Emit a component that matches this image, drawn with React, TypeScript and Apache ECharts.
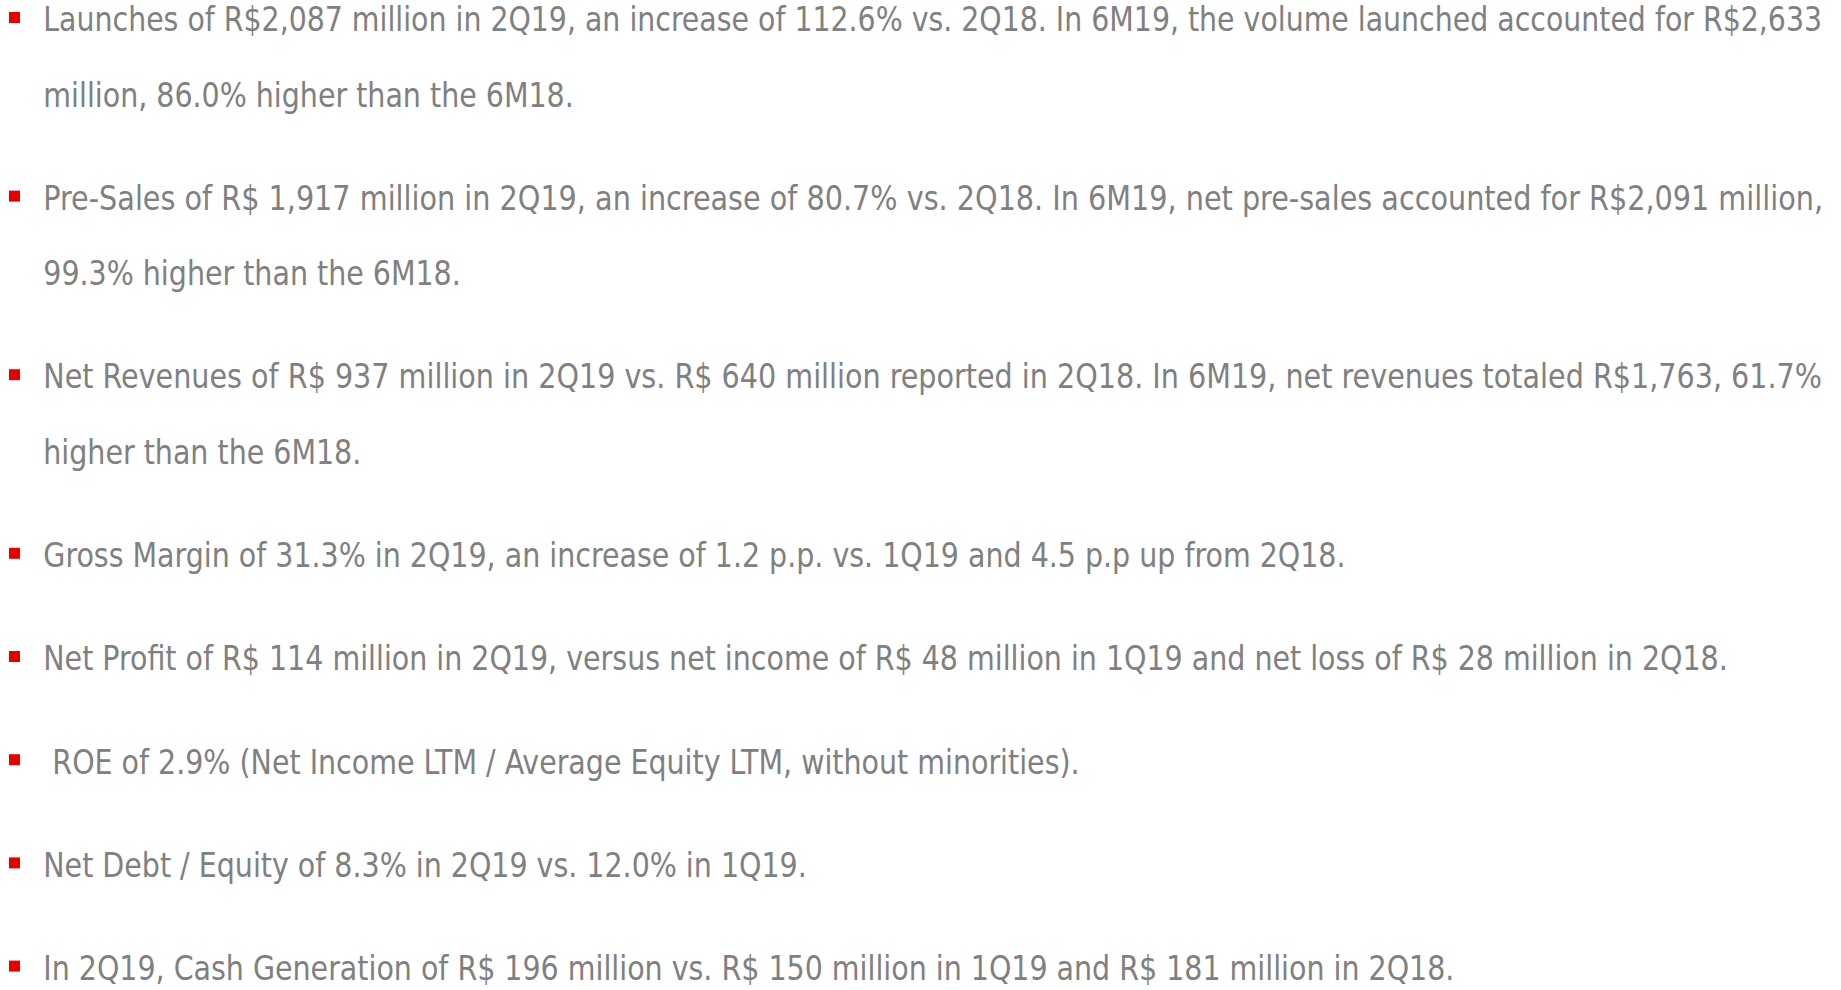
import React, { useEffect, useRef } from "react";
import * as echarts from "echarts";

// Bullet paragraphs, each split into its printed lines
const paragraphs: string[][] = [
  [
    "Launches of R$2,087 million in 2Q19, an increase of 112.6% vs. 2Q18. In 6M19, the volume launched accounted for R$2,633",
    "million, 86.0% higher than the 6M18.",
  ],
  [
    "Pre-Sales of R$ 1,917 million in 2Q19, an increase of 80.7% vs. 2Q18. In 6M19, net pre-sales accounted for R$2,091 million,",
    "99.3% higher than the 6M18.",
  ],
  [
    "Net Revenues of R$ 937 million in 2Q19 vs. R$ 640 million reported in 2Q18. In 6M19, net revenues totaled R$1,763, 61.7%",
    "higher than the 6M18.",
  ],
  ["Gross Margin of 31.3% in 2Q19, an increase of 1.2 p.p. vs. 1Q19 and 4.5 p.p up from 2Q18."],
  ["Net Profit of R$ 114 million in 2Q19, versus net income of R$ 48 million in 1Q19 and net loss of R$ 28 million in 2Q18."],
  [" ROE of 2.9% (Net Income LTM / Average Equity LTM, without minorities)."],
  ["Net Debt / Equity of 8.3% in 2Q19 vs. 12.0% in 1Q19."],
  ["In 2Q19, Cash Generation of R$ 196 million vs. R$ 150 million in 1Q19 and R$ 181 million in 2Q18."],
];

const FONT_FAMILY = "'DejaVu Sans Condensed', 'DejaVu Sans', Tahoma, sans-serif";
const FONT_SIZE = 33;
const TEXT_COLOR = "#808080";
const BULLET_COLOR = "#e60000";

export default function App() {
  const ref = useRef<HTMLDivElement>(null);

  useEffect(() => {
    if (!ref.current) return;
    const chart = echarts.init(ref.current, undefined, { renderer: "svg" });

    const canvas = document.createElement("canvas");
    const ctx = canvas.getContext("2d")!;
    ctx.font = `${FONT_SIZE}px ${FONT_FAMILY}`;

    const textLeft = 43.3;
    const textRight = 1822.7;
    const condense = 0.96;

    const elements: any[] = [];
    const firstBaseline = 31.5;
    const lineGap = 75.4;
    const paraGap = 103.2;
    let baseline = firstBaseline;
    paragraphs.forEach((lines, pi) => {
      if (pi > 0) baseline += paraGap;
      elements.push({
        type: "rect",
        shape: { x: 9, y: baseline - 19.5, width: 11, height: 11 },
        style: { fill: BULLET_COLOR },
      });
      lines.forEach((line, li) => {
        if (li > 0) baseline += lineGap;
        const justified = li < lines.length - 1;
        let sx = condense;
        if (justified) {
          const w = ctx.measureText(line).width;
          sx = (textRight - textLeft) / w;
        }
        elements.push({
          type: "text",
          x: textLeft,
          y: baseline - 11.4,
          scaleX: sx,
          style: {
            text: line,
            fill: TEXT_COLOR,
            font: `${FONT_SIZE}px ${FONT_FAMILY}`,
            fontSize: FONT_SIZE,
            fontFamily: FONT_FAMILY,
            lineHeight: 30,
            align: "left",
            verticalAlign: "middle",
          },
        });
      });
    });

    chart.setOption({
      animation: false,
      backgroundColor: "#ffffff",
      graphic: { elements },
    });
    return () => chart.dispose();
  }, []);

  return (
    <div
      ref={ref}
      style={{ position: "fixed", left: 0, top: 0, width: 1841, height: 990 }}
    />
  );
}
